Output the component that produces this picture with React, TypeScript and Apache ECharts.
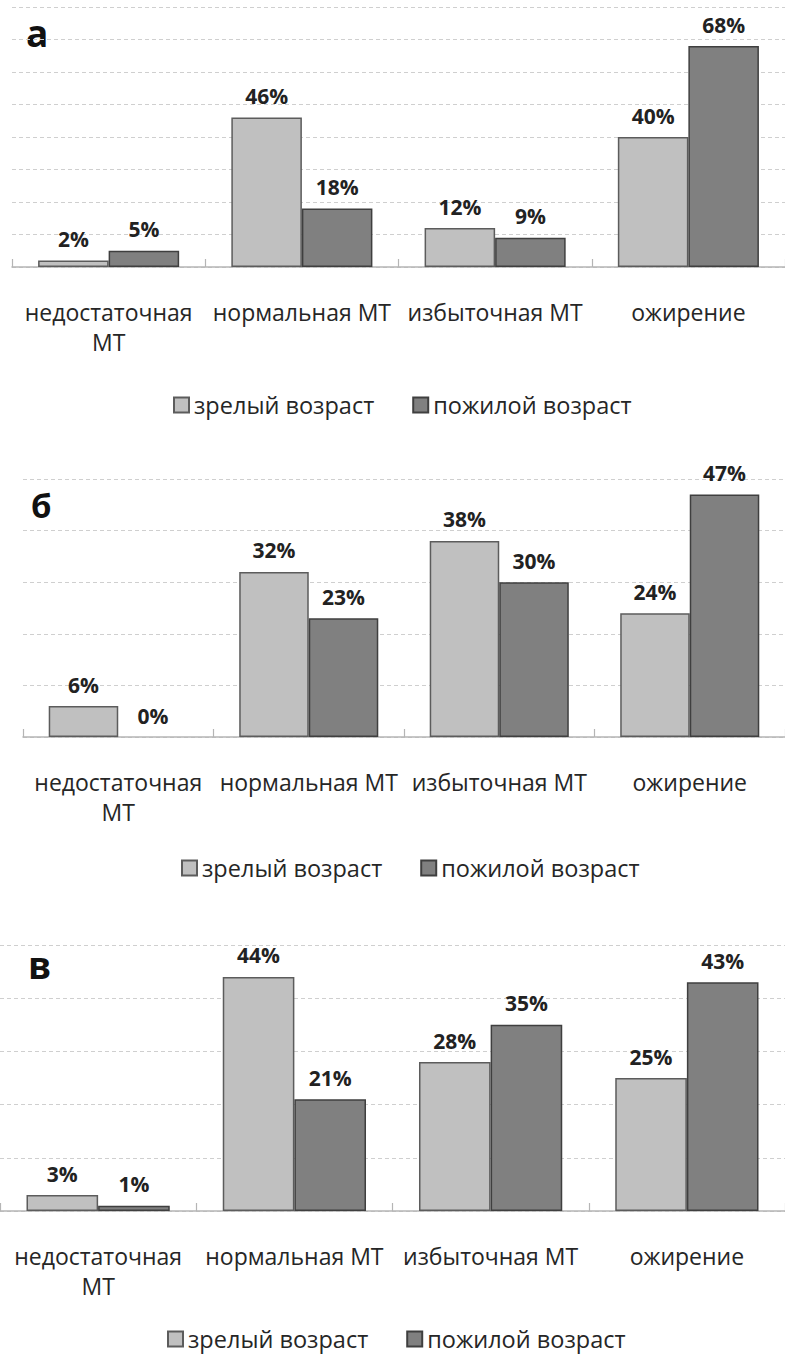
import React, { useEffect, useRef } from 'react';
import * as echarts from 'echarts';

// ---- data ----
const categories = ['недостаточная\nМТ', 'нормальная МТ', 'избыточная МТ', 'ожирение'];
const seriesNames = ['зрелый возраст', 'пожилой возраст'];
const panelLetters = ['а', 'б', 'в'];
const matureA = [2, 46, 12, 40];
const elderlyA = [5, 18, 9, 68];
const matureB = [6, 32, 38, 24];
const elderlyB = [0, 23, 30, 47];
const matureC = [3, 44, 28, 25];
const elderlyC = [1, 21, 35, 43];
const yMaxes = [80, 50, 50];
const yStep = 10;

// ---- layout / style ----
const FONT = "'Open Sans', sans-serif";
const LIGHT = '#c0c0c0';
const DARK = '#808080';
const LIGHT_BORDER = '#5c5c5c';
const DARK_BORDER = '#3f3f3f';

const layouts = [
  { left: 12, top: 7, width: 780, height: 260, letterX: 26, letterY: 32, letterSize: 37, legendLeft: 173, legendTop: 393 },
  { left: 23, top: 479, width: 764, height: 258, letterX: 31, letterY: 505, letterSize: 33, legendLeft: 181, legendTop: 856 },
  { left: 0, top: 945, width: 788, height: 266, letterX: 28, letterY: 964, letterSize: 37, legendLeft: 167, legendTop: 1327 },
];

const panelData = [
  [matureA, elderlyA],
  [matureB, elderlyB],
  [matureC, elderlyC],
];

export default function App() {
  const ref = useRef<HTMLDivElement>(null);
  useEffect(() => {
    document.body.style.margin = '0';
    if (!ref.current) return;
    const chart = echarts.init(ref.current, null, { renderer: 'svg' });

    const grids: any[] = [];
    const xAxes: any[] = [];
    const yAxes: any[] = [];
    const series: any[] = [];
    const legends: any[] = [];
    const graphics: any[] = [];

    layouts.forEach((l, i) => {
      grids.push({ left: l.left, top: l.top, width: l.width, height: l.height, containLabel: false });
      xAxes.push({
        type: 'category',
        gridIndex: i,
        data: categories,
        boundaryGap: true,
        axisLine: { show: true, lineStyle: { color: '#b5b5b5', width: 1.5 } },
        axisTick: { show: true, inside: true, length: 8, lineStyle: { color: '#b5b5b5', width: 1.2 } },
        axisLabel: {
          interval: 0,
          margin: 30,
          fontFamily: FONT,
          fontSize: 23,
          lineHeight: 30,
          color: '#262626',
        },
      });
      yAxes.push({
        type: 'value',
        gridIndex: i,
        min: 0,
        max: yMaxes[i],
        interval: yStep,
        axisLine: { show: false },
        axisTick: { show: false },
        axisLabel: { show: false },
        splitLine: { show: true, lineStyle: { color: '#cfcfcf', width: 1, type: [4, 3] } },
      });
      panelData[i].forEach((vals, s) => {
        series.push({
          type: 'bar',
          name: seriesNames[s],
          xAxisIndex: i,
          yAxisIndex: i,
          barWidth: '36.5%',
          barGap: '0%',
          data: vals.map((v) =>
            v === 0 ? { value: v, itemStyle: { borderWidth: 0 } } : v
          ),
          itemStyle: {
            color: s === 0 ? LIGHT : DARK,
            borderColor: s === 0 ? LIGHT_BORDER : DARK_BORDER,
            borderWidth: 1.5,
          },
          label: {
            show: true,
            position: 'top',
            distance: 11,
            formatter: '{c}%',
            fontFamily: FONT,
            fontSize: 21,
            fontWeight: 'bold',
            color: '#222',
          },
        });
      });
      legends.push({
        data: seriesNames,
        left: l.legendLeft,
        top: l.legendTop,
        padding: 0,
        itemWidth: 15,
        itemHeight: 15,
        itemGap: 38,
        icon: 'rect',
        selectedMode: false,
        textStyle: { fontFamily: FONT, fontSize: 23.5, color: '#262626', lineHeight: 24 },
      });
      graphics.push({
        type: 'text',
        x: l.letterX,
        y: l.letterY,
        style: {
          text: panelLetters[i],
          fontFamily: FONT,
          fontSize: l.letterSize,
          fontWeight: 'bold',
          fill: '#111',
          textVerticalAlign: 'middle',
        },
      });
    });

    chart.setOption({
      animation: false,
      backgroundColor: '#ffffff',
      grid: grids,
      xAxis: xAxes,
      yAxis: yAxes,
      series,
      legend: legends,
      graphic: graphics,
    });
    return () => chart.dispose();
  }, []);
  return <div ref={ref} style={{ width: 785, height: 1356 }} />;
}
